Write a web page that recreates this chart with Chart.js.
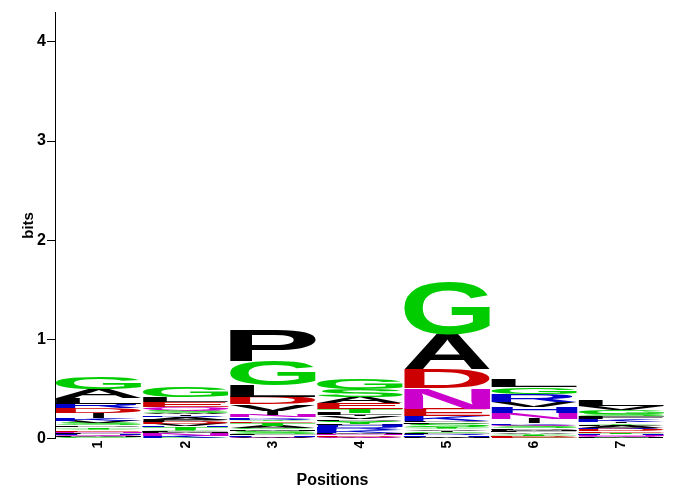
<!DOCTYPE html>
<html><head><meta charset="utf-8">
<script src="https://cdn.jsdelivr.net/npm/chart.js@4/dist/chart.umd.min.js"></script>
<style>html,body{margin:0;padding:0;background:#fff}#wrap{width:680px;height:491px}</style>
</head><body><div id="wrap"><canvas id="c" width="680" height="491"></canvas></div>
<script>
// ---- data (letters listed bottom -> top, heights in bits) ----
const positions = ['1', '2', '3', '4', '5', '6', '7'];
const yTickValues = [0, 1, 2, 3, 4];
const yMaxBits = 4.3;

const pos1Letters = ['W','C','M','Q','H','F','N','E','Y','T','P','S','V','K','I','D','R','L','A','G'];
const pos1Bits    = [0.008,0.008,0.01,0.01,0.012,0.012,0.013,0.014,0.015,0.016,0.017,0.02,0.025,0.03,0.045,0.05,0.05,0.06,0.09,0.115];

const pos2Letters = ['C','K','N','M','F','Y','T','H','V','D','P','A','R','I','W','S','Q','E','L','G'];
const pos2Bits    = [0.01,0.02,0.025,0.012,0.012,0.012,0.024,0.012,0.025,0.02,0.02,0.025,0.015,0.018,0.01,0.025,0.035,0.05,0.045,0.105];

const pos3Letters = ['Q','W','H','F','S','M','C','A','T','E','Y','R','K','N','I','V','D','L','G','P'];
const pos3Bits    = [0.012,0.01,0.012,0.015,0.03,0.015,0.015,0.02,0.03,0.018,0.015,0.012,0.012,0.025,0.04,0.065,0.08,0.11,0.25,0.305];

const pos4Letters = ['W','Q','D','N','M','K','R','H','F','Y','C','P','V','I','L','T','E','A','S','G'];
const pos4Bits    = [0.01,0.01,0.015,0.012,0.012,0.03,0.03,0.02,0.012,0.02,0.012,0.015,0.027,0.015,0.02,0.04,0.065,0.06,0.075,0.11];

const pos5Letters = ['Q','W','M','H','R','F','C','I','V','Y','T','S','L','P','K','E','N','D','A','G'];
const pos5Bits    = [0.005,0.008,0.01,0.012,0.015,0.01,0.008,0.012,0.015,0.01,0.015,0.033,0.012,0.01,0.05,0.08,0.205,0.19,0.345,0.53];

const pos6Letters = ['W','C','E','D','T','Y','A','F','M','P','S','Q','K','I','N','H','V','R','G','L'];
const pos6Bits    = [0.005,0.005,0.01,0.012,0.01,0.01,0.015,0.012,0.01,0.015,0.02,0.015,0.016,0.045,0.06,0.06,0.05,0.08,0.07,0.07];

const pos7Letters = ['W','C','M','Q','N','H','T','E','D','R','A','P','Y','I','K','F','S','G','V','L'];
const pos7Bits    = [0.005,0.005,0.008,0.01,0.01,0.012,0.01,0.015,0.02,0.015,0.02,0.01,0.015,0.015,0.03,0.025,0.025,0.045,0.04,0.06];

const letterColors = {
  G:'#00cc00', S:'#00cc00', T:'#00cc00', Y:'#00cc00', C:'#00cc00',
  N:'#cc00cc', Q:'#cc00cc',
  K:'#0000cc', R:'#0000cc', H:'#0000cc',
  D:'#cc0000', E:'#cc0000',
  P:'#000000', A:'#000000', W:'#000000', F:'#000000', L:'#000000', I:'#000000', M:'#000000', V:'#000000'
};

// ---- build stacked datasets (one dataset per stack level) ----
const stackLetters = [pos1Letters, pos2Letters, pos3Letters, pos4Letters, pos5Letters, pos6Letters, pos7Letters];
const stackBits = [pos1Bits, pos2Bits, pos3Bits, pos4Bits, pos5Bits, pos6Bits, pos7Bits];
const levels = Math.max(...stackLetters.map(a => a.length));
const datasets = [];
for (let r = 0; r < levels; r++) {
  datasets.push({
    label: 'level ' + (r + 1),
    data: positions.map((p, c) => stackBits[c][r] || 0),
    letters: positions.map((p, c) => stackLetters[c][r] || ''),
    backgroundColor: 'rgba(0,0,0,0)',
    borderWidth: 0
  });
}

const FONT = "'Liberation Sans', Arial, Helvetica, sans-serif";
const LETTER_FONT = "bold 200px " + FONT;
const glyphCache = {};
function glyphBox(ctx, ch) {
  if (!glyphCache[ch]) {
    ctx.save();
    ctx.font = LETTER_FONT;
    const m = ctx.measureText(ch);
    ctx.restore();
    glyphCache[ch] = { l: m.actualBoundingBoxLeft, r: m.actualBoundingBoxRight, a: m.actualBoundingBoxAscent, d: m.actualBoundingBoxDescent };
  }
  return glyphCache[ch];
}

const logoLetters = {
  id: 'logoLetters',
  afterDatasetsDraw(chart) {
    const ctx = chart.ctx;
    chart.data.datasets.forEach((ds, i) => {
      const meta = chart.getDatasetMeta(i);
      meta.data.forEach((bar, j) => {
        const ch = ds.letters[j];
        if (!ch) return;
        const p = bar.getProps(['x', 'y', 'base', 'width'], true);
        const h = p.base - p.y;
        if (!(h > 0)) return;
        const g = glyphBox(ctx, ch);
        const gw = g.l + g.r, gh = g.a + g.d;
        const w = ch === 'I' ? p.width * 0.13 : p.width * 0.985;
        ctx.save();
        ctx.translate(p.x - w / 2, p.base);
        ctx.scale(w / gw, h / gh);
        ctx.font = LETTER_FONT;
        ctx.fillStyle = letterColors[ch];
        ctx.textBaseline = 'alphabetic';
        ctx.textAlign = 'left';
        ctx.fillText(ch, g.l, -g.d);
        ctx.restore();
      });
    });
  }
};

Chart.defaults.font.family = FONT;
Chart.defaults.color = '#000';

new Chart(document.getElementById('c'), {
  type: 'bar',
  data: { labels: positions, datasets },
  options: {
    responsive: false,
    animation: false,
    devicePixelRatio: 1,
    layout: { padding: { top: 12, right: 15, left: 0, bottom: 0 } },
    plugins: {
      legend: { display: false },
      tooltip: { enabled: false },
      title: {
        display: true, position: 'bottom', text: 'Positions', color: '#000',
        font: { size: 16, weight: 'bold' }, padding: { top: 0, bottom: 1 }
      }
    },
    datasets: { bar: { barPercentage: 1, categoryPercentage: 1 } },
    scales: {
      x: {
        stacked: true,
        grid: { display: false, drawTicks: false },
        border: { display: false },
        ticks: { minRotation: 90, maxRotation: 90, padding: 2, color: '#000', font: { size: 14, weight: 'bold' } },
        afterFit(scale) { scale.height = 32; }
      },
      y: {
        stacked: true,
        min: 0, max: yMaxBits,
        afterBuildTicks(scale) { scale.ticks = yTickValues.map(v => ({ value: v })); },
        ticks: { padding: 1, color: '#000', font: { size: 16, weight: 'bold' } },
        grid: { drawOnChartArea: false, drawTicks: true, tickLength: 8, color: '#000' },
        border: { display: true, color: '#000', width: 1 },
        title: { display: true, text: 'bits', color: '#000', font: { size: 15, weight: 'bold' }, padding: { top: 20, bottom: 0 } },
        afterFit(scale) { scale.width = 55; }
      }
    }
  },
  plugins: [logoLetters]
});
</script>
</body></html>
